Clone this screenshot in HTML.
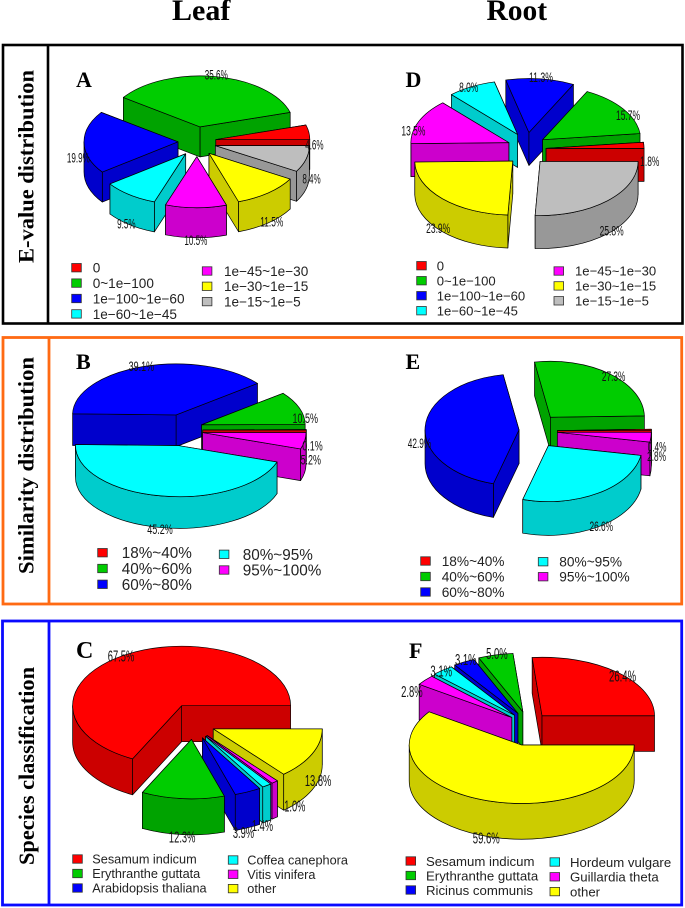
<!DOCTYPE html>
<html>
<head>
<meta charset="utf-8">
<title>E-value, similarity and species distribution</title>
<style>
html,body{margin:0;padding:0;background:#fff;width:685px;height:908px;overflow:hidden}
svg{display:block;font-family:"Liberation Sans",sans-serif;filter:blur(0.3px)}
.serif{font-family:"Liberation Serif",serif;font-weight:bold;fill:#000}
</style>
</head>
<body>
<svg id="figure" width="685" height="908" viewBox="0 0 685 908" xmlns="http://www.w3.org/2000/svg">
  <rect width="685" height="908" fill="#fff"/>
  <text class="serif" x="172" y="20" font-size="30">Leaf</text>
  <text class="serif" x="486.5" y="20" font-size="29.5">Root</text>

  <rect x="3" y="45" width="679.5" height="278.5" fill="none" stroke="#000" stroke-width="2.6"/>
  <line x1="48" y1="45" x2="48" y2="323.5" stroke="#000" stroke-width="2.6"/>
  <rect x="3" y="337.5" width="678.7" height="266.5" fill="none" stroke="#ff6a13" stroke-width="2.8"/>
  <line x1="49" y1="337.5" x2="49" y2="605" stroke="#ff6a13" stroke-width="2.8"/>
  <rect x="2.5" y="621" width="679.2" height="284" fill="none" stroke="#0a0aff" stroke-width="2.8"/>
  <line x1="49" y1="621" x2="49" y2="905" stroke="#0a0aff" stroke-width="2.8"/>

  <text class="serif" transform="translate(33.5,263) rotate(-90)" font-size="22.5" textLength="193" lengthAdjust="spacingAndGlyphs">E-value distribution</text>
  <text class="serif" transform="translate(33.5,574) rotate(-90)" font-size="22.5" textLength="217" lengthAdjust="spacingAndGlyphs">Similarity distribution</text>
  <text class="serif" transform="translate(34,865) rotate(-90)" font-size="22.5" textLength="198" lengthAdjust="spacingAndGlyphs">Species classification</text>

  <text class="serif" x="76" y="87" font-size="22">A</text>
  <text class="serif" x="405.5" y="87" font-size="22">D</text>
  <text class="serif" x="76" y="369" font-size="22">B</text>
  <text class="serif" x="405.5" y="369" font-size="22">E</text>
  <text class="serif" x="76" y="658" font-size="24">C</text>
  <text class="serif" x="409" y="658" font-size="22">F</text>
  <g id="charts"></g>
</svg>
<script>
// Category labels
const evalueCategories = ['0', '0~1e\u2212100', '1e\u2212100~1e\u221260', '1e\u221260~1e\u221245', '1e\u221245~1e\u221230', '1e\u221230~1e\u221215', '1e\u221215~1e\u22125'];
const similarityCategories = ['18%~40%', '40%~60%', '60%~80%', '80%~95%', '95%~100%'];
const leafSpecies = ['Sesamum indicum', 'Erythranthe guttata', 'Arabidopsis thaliana', 'Coffea canephora', 'Vitis vinifera', 'other'];
const rootSpecies = ['Sesamum indicum', 'Erythranthe guttata', 'Ricinus communis', 'Hordeum vulgare', 'Guillardia theta', 'other'];

// Series values (percent)
const leafEvalue = [4.6, 35.6, 19.9, 9.5, 10.5, 11.5, 8.4];
const rootEvalue = [1.8, 15.7, 11.3, 8.0, 13.5, 23.9, 25.8];
const leafSimilarity = [0.1, 10.5, 39.1, 45.2, 5.2];
const rootSimilarity = [0.4, 27.3, 42.9, 26.6, 2.8];
const leafSpeciesShare = [67.5, 12.3, 3.9, 1.4, 1.0, 13.8];
const rootSpeciesShare = [26.4, 5.0, 3.1, 3.1, 2.8, 59.6];

// Colours by category order
const evalueColors = ['red', 'green', 'blue', 'cyan', 'magenta', 'yellow', 'gray'];
const similarityColors = ['red', 'green', 'blue', 'cyan', 'magenta'];
const speciesColors = ['red', 'green', 'blue', 'cyan', 'magenta', 'yellow'];
const topFill = {red: '#ff0000', green: '#00cc00', blue: '#0000ff', cyan: '#00ffff', magenta: '#ff00ff', yellow: '#ffff00', gray: '#bebebe'};
const wallFill = {red: '#cc0000', green: '#00a300', blue: '#0000cc', cyan: '#00cccc', magenta: '#cc00cc', yellow: '#cccc00', gray: '#989898'};

// Panel layout (geometry only; data come from the arrays above)
const panels = [
  {id: 'a', values: leafEvalue, cats: evalueCategories, colors: evalueColors,
   cx: 197, cy: 141.7, rx: 94, ry: 51, h: 30, ex: 19, ey: 15, lw: 4.6, fs: 14,
   legendSize: 13.6, split: 4, nudge: {},
   col1: {sx: 71.7, tx: 92.7, y0: 267.7, dy: 15.4}, col2: {sx: 202.3, tx: 224, y0: 271, dy: 15.3}},
  {id: 'd', values: rootEvalue, cats: evalueCategories, colors: evalueColors,
   cx: 526.7, cy: 149.3, rx: 98, ry: 54, h: 33, ex: 19.4, ey: 16.9, lw: 4.8, fs: 14,
   legendSize: 13.1, split: 4, nudge: {},
   col1: {sx: 416.7, tx: 436.7, y0: 265.7, dy: 15}, col2: {sx: 554, tx: 575, y0: 271, dy: 14.9}},
  {id: 'b', values: leafSimilarity, cats: similarityCategories, colors: similarityColors,
   cx: 182.5, cy: 430, rx: 103.5, ry: 51, h: 31.7, ex: 20.3, ey: 15.9, lw: 5.1, fs: 14,
   legendSize: 15.3, split: 3, nudge: {},
   col1: {sx: 97.7, tx: 121.7, y0: 552.7, dy: 15.8}, col2: {sx: 219.3, tx: 242.7, y0: 554.3, dy: 15.7}},
  {id: 'e', values: rootSimilarity, cats: similarityCategories, colors: similarityColors,
   cx: 538.2, cy: 430.8, rx: 94, ry: 56, h: 33.7, ex: 19.2, ey: 17.5, lw: 4.7, fs: 14,
   legendSize: 13.7, split: 3, nudge: {},
   col1: {sx: 420.7, tx: 441.7, y0: 561, dy: 15.5}, col2: {sx: 538.3, tx: 559.3, y0: 561.7, dy: 15}},
  {id: 'c', values: leafSpeciesShare, cats: leafSpecies, colors: speciesColors,
   cx: 193.2, cy: 721.2, rx: 109, ry: 59.5, h: 36, ex: 22.1, ey: 18.2, lw: 5.3, fs: 15.5,
   legendSize: 12.7, split: 3, nudge: {2: [-7, 4], 3: [-8, 5], 4: [16, -10]},
   col1: {sx: 72.7, tx: 92.3, y0: 859, dy: 14.5}, col2: {sx: 228.3, tx: 247.3, y0: 860, dy: 14.3}},
  {id: 'f', values: rootSpeciesShare, cats: rootSpecies, colors: speciesColors,
   cx: 527.9, cy: 728.5, rx: 112.5, ry: 58.5, h: 35.7, ex: 20.9, ey: 17.3, lw: 5.4, fs: 15.5,
   legendSize: 13.2, split: 3, nudge: {1: [3, 0], 2: [5, -3], 3: [3, -2], 4: [-8, 6]},
   col1: {sx: 406, tx: 426, y0: 861, dy: 14.5}, col2: {sx: 550, tx: 570, y0: 862, dy: 14.8}}
];

const NS = 'http://www.w3.org/2000/svg';
const host = document.getElementById('charts');
const LABEL_RX = 1.06;
const LABEL_RY = 1.34;
const rad = d => d * Math.PI / 180;

function add(parent, tag, attrs) {
  const el = document.createElementNS(NS, tag);
  for (const k in attrs) el.setAttribute(k, attrs[k]);
  parent.appendChild(el);
  return el;
}

function drawPanel(p) {
  const g = document.createElementNS(NS, 'g');
  
  
  host.appendChild(g);

  const total = p.values.reduce((s, v) => s + v, 0);
  let acc = 0;
  const sectors = p.values.map((v, i) => {
    const a0 = acc / total * 360;
    acc += v;
    const a1 = acc / total * 360;
    return {i, v, a0, a1, mid: (a0 + a1) / 2};
  });
  // Painter order: rear slices first, front slices last
  const order = sectors.slice().sort((s, t) => Math.sin(rad(t.mid)) - Math.sin(rad(s.mid)));

  order.forEach(s => {
    const ax = p.cx + p.ex * Math.cos(rad(s.mid));
    const ay = p.cy - p.ey * Math.sin(rad(s.mid));
    const px = a => ax + p.rx * Math.cos(rad(a));
    const py = a => ay - p.ry * Math.sin(rad(a));
    const col = p.colors[s.i];
    const sg = document.createElementNS(NS, 'g');
    
    
    g.appendChild(sg);
    const style = {stroke: '#000', 'stroke-width': 0.7, 'stroke-linejoin': 'round'};

    // Radial walls, back-facing first
    [s.a0, s.a1].sort((x, y) => Math.sin(rad(y)) - Math.sin(rad(x))).forEach(a => {
      add(sg, 'path', Object.assign({
        d: `M${ax} ${ay}L${px(a)} ${py(a)}L${px(a)} ${py(a) + p.h}L${ax} ${ay + p.h}Z`,
        fill: wallFill[col]
      }, style));
    });

    // Outer curved wall, front half only
    const w0 = Math.max(s.a0, 180);
    const w1 = Math.min(s.a1, 360);
    if (w1 > w0) {
      const large = (w1 - w0) > 180 ? 1 : 0;
      add(sg, 'path', Object.assign({
        d: `M${px(w0)} ${py(w0)}A${p.rx} ${p.ry} 0 ${large} 0 ${px(w1)} ${py(w1)}L${px(w1)} ${py(w1) + p.h}A${p.rx} ${p.ry} 0 ${large} 1 ${px(w0)} ${py(w0) + p.h}Z`,
        fill: wallFill[col]
      }, style));
    }

    // Top face
    const large = (s.a1 - s.a0) > 180 ? 1 : 0;
    add(sg, 'path', Object.assign({
      d: `M${ax} ${ay}L${px(s.a0)} ${py(s.a0)}A${p.rx} ${p.ry} 0 ${large} 0 ${px(s.a1)} ${py(s.a1)}Z`,
      fill: topFill[col]
    }, style));
  });

  // Percent labels, above all slices
  sectors.forEach(s => {
    const ax = p.cx + p.ex * Math.cos(rad(s.mid));
    const ay = p.cy - p.ey * Math.sin(rad(s.mid));
    const txt = s.v.toFixed(1) + '%';
    const n = p.nudge[s.i] || [0, 0];
    const t = document.createElementNS(NS, 'text');
    
    
    t.setAttribute('x', ax + LABEL_RX * p.rx * Math.cos(rad(s.mid)) + n[0]);
    t.setAttribute('y', ay + p.h / 2 - LABEL_RY * p.ry * Math.sin(rad(s.mid)) + p.fs * 0.36 + n[1]);
    t.setAttribute('text-anchor', 'middle');
    t.setAttribute('font-size', p.fs);
    t.setAttribute('fill', '#111');
    t.setAttribute('textLength', txt.length * p.lw);
    t.setAttribute('lengthAdjust', 'spacingAndGlyphs');
    t.textContent = txt;
    g.appendChild(t);
  });

  // Legend
  p.cats.forEach((name, i) => {
    const inFirst = i < p.split;
    const c = inFirst ? p.col1 : p.col2;
    const row = inFirst ? i : i - p.split;
    const y = c.y0 + row * c.dy;
    const lg = document.createElementNS(NS, 'g');
    
    
    g.appendChild(lg);
    add(lg, 'rect', {x: c.sx, y: y - 4.2, width: 9.6, height: 8.4, fill: topFill[p.colors[i]], stroke: '#333', 'stroke-width': 0.8});
    const t = add(lg, 'text', {x: c.tx, y: y + p.legendSize * 0.36, 'font-size': p.legendSize, fill: '#222'});
    t.textContent = name;
  });
}

panels.forEach(drawPanel);
</script>
</body>
</html>
